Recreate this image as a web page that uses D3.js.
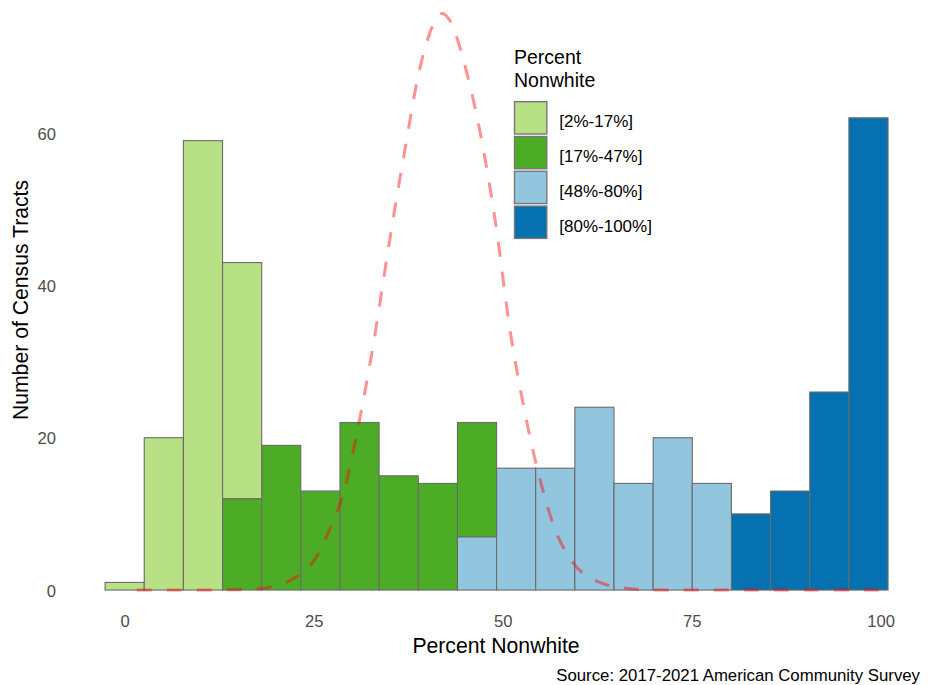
<!DOCTYPE html>
<html>
<head>
<meta charset="utf-8">
<script src="https://cdn.jsdelivr.net/npm/d3@7"></script>
<style>
    body { margin: 0; background: #fff; }
    text { font-family: 'Liberation Sans', Arial, sans-serif; }
</style>
</head>
<body>
<div id="chart-container"></div>
<script>
// Histogram bins (lower edge of each bin, percent nonwhite)
const binLower = [-2.59, 2.59, 7.77, 12.95, 18.12, 23.30, 28.48, 33.66, 38.84, 44.02,
                  49.19, 54.37, 59.55, 64.73, 69.91, 75.08, 80.26, 85.44, 90.62, 95.80];
const binWidth = 5.178;

// Number of census tracts per bin, one array per legend group
const categories = ['[2%-17%]', '[17%-47%]', '[48%-80%]', '[80%-100%]'];
const countLow      = [1, 20, 59, 31, 0, 0, 0, 0, 0, 0, 0, 0, 0, 0, 0, 0, 0, 0, 0, 0];
const countMidLow   = [0, 0, 0, 12, 19, 13, 22, 15, 14, 15, 0, 0, 0, 0, 0, 0, 0, 0, 0, 0];
const countMidHigh  = [0, 0, 0, 0, 0, 0, 0, 0, 0, 7, 16, 16, 24, 14, 20, 14, 0, 0, 0, 0];
const countHigh     = [0, 0, 0, 0, 0, 0, 0, 0, 0, 0, 0, 0, 0, 0, 0, 0, 10, 13, 26, 62];

// Dashed reference curve
const curveX = [1.6, 10, 15, 18, 20, 22.5, 25, 27, 29, 31, 33, 35, 37, 39, 41, 42, 43,
                45, 47, 49, 51, 53, 55, 57, 59, 62.6, 66.6, 70, 100];
const curveY = [0, 0, 0.05, 0.2, 0.6, 1.6, 3.8, 7.7, 12.9, 22, 32.9, 45.6, 57.4, 68.3, 74.6, 75.7, 74.8,
                68.9, 60.2, 48.6, 34.0, 23.0, 14.3, 7.8, 4.0, 1.1, 0.2, 0, 0];

// Axis ticks
const xTicks = [0, 25, 50, 75, 100];
const yTicks = [0, 20, 40, 60];

const palette = ['#b8e186', '#4dac26', '#92c5de', '#0571b0'];

const width = 928;
const height = 685;

const svg = d3.select('#chart-container')
    .append('svg')
    .attr('width', width)
    .attr('height', height)
    .style('display', 'block');

svg.append('rect')
    .attr('width', width)
    .attr('height', height)
    .attr('fill', '#fff');

const x = d3.scaleLinear()
    .domain([-7.76, 106.0])
    .range([66, 926]);

const y = d3.scaleLinear()
    .domain([-3.8, 76.55])
    .range([619, 7]);

const color = d3.scaleOrdinal()
    .domain(categories)
    .range(palette);

// one row per bin for the stack
const table = binLower.map((lo, i) => ({
    lo: lo,
    [categories[0]]: countLow[i],
    [categories[1]]: countMidLow[i],
    [categories[2]]: countMidHigh[i],
    [categories[3]]: countHigh[i]
}));

// last group sits at the bottom of each bar, like ggplot does
const stacked = d3.stack()
    .keys(categories.slice().reverse())(table);

svg.append('g')
    .selectAll('g')
    .data(stacked)
    .join('g')
    .attr('fill', d => color(d.key))
    .selectAll('rect')
    .data(d => d.filter(s => s[1] - s[0] > 0))
    .join('rect')
    .attr('x', d => x(d.data.lo))
    .attr('width', x(binWidth) - x(0))
    .attr('y', d => y(d[1]))
    .attr('height', d => y(d[0]) - y(d[1]))
    .attr('stroke', '#6b6b6b')
    .attr('stroke-width', 1.1);

// dashed curve over the bars
const line = d3.line()
    .x(d => x(d[0]))
    .y(d => y(d[1]))
    .curve(d3.curveMonotoneX);

svg.append('path')
    .datum(d3.zip(curveX, curveY))
    .attr('d', line)
    .attr('fill', 'none')
    .attr('stroke', 'red')
    .attr('stroke-opacity', 0.43)
    .attr('stroke-width', 3)
    .attr('stroke-dasharray', '15,15');

// axes: labels only, no lines or ticks
const xAxis = svg.append('g')
    .attr('transform', 'translate(0,627)')
    .call(d3.axisBottom(x).tickValues(xTicks).tickSize(0).tickPadding(0));
xAxis.select('.domain').remove();
xAxis.selectAll('text')
    .attr('dy', 0)
    .attr('y', 0)
    .attr('fill', '#4d4d4d')
    .style('font-size', '16.6px');

const yAxis = svg.append('g')
    .attr('transform', 'translate(56,0)')
    .call(d3.axisLeft(y).tickValues(yTicks).tickSize(0).tickPadding(0));
yAxis.select('.domain').remove();
yAxis.selectAll('text')
    .attr('dy', '0.36em')
    .attr('fill', '#4d4d4d')
    .style('font-size', '16.6px');

// axis titles and caption
svg.append('text')
    .attr('x', 496)
    .attr('y', 652.7)
    .attr('text-anchor', 'middle')
    .style('font-size', '21.2px')
    .text('Percent Nonwhite');

svg.append('text')
    .attr('transform', 'translate(28.3,300) rotate(-90)')
    .attr('text-anchor', 'middle')
    .style('font-size', '21.2px')
    .text('Number of Census Tracts');

svg.append('text')
    .attr('x', 920)
    .attr('y', 681)
    .attr('text-anchor', 'end')
    .style('font-size', '16.8px')
    .text('Source: 2017-2021 American Community Survey');

// legend inside the panel
const legend = svg.append('g')
    .attr('transform', 'translate(514,0)');

legend.append('text')
    .attr('y', 64)
    .style('font-size', '19.5px')
    .selectAll('tspan')
    .data(['Percent', 'Nonwhite'])
    .join('tspan')
    .attr('x', 0)
    .attr('dy', (d, i) => i === 0 ? 0 : 23.3)
    .text(d => d);

const keys = legend.selectAll('.key')
    .data(categories)
    .join('g')
    .attr('class', 'key')
    .attr('transform', (d, i) => `translate(0,${101.7 + i * 34.8})`);

keys.append('rect')
    .attr('x', 0.5)
    .attr('width', 32.3)
    .attr('height', 32.3)
    .attr('fill', d => color(d))
    .attr('stroke', '#777')
    .attr('stroke-width', 1.4);

keys.append('text')
    .attr('x', 45.3)
    .attr('y', 25.5)
    .style('font-size', '17px')
    .text(d => d);
</script>
</body>
</html>
